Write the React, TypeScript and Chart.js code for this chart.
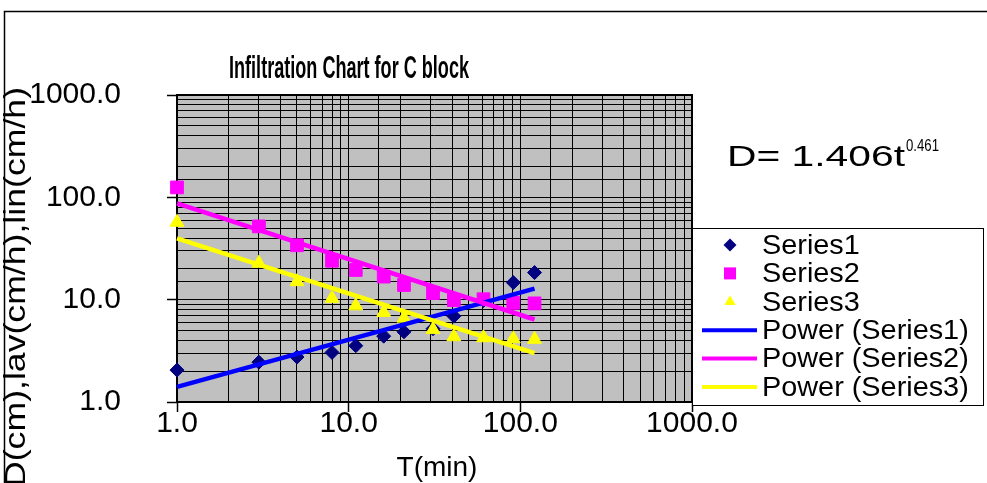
import React, { useEffect, useRef } from 'react';
import { Chart, registerables } from 'chart.js';

Chart.register(...registerables);

// ---- data ----
const TIMES = [1, 3, 5, 8, 11, 16, 21, 31, 41, 61, 91, 121];
const SERIES1 = [2.05, 2.45, 2.75, 3.05, 3.55, 4.4, 4.85, 5.2, 6.9, 9.8, 14.7, 18.4];
const SERIES2 = [125, 52, 34, 24, 19.5, 16.8, 13.9, 11.6, 9.9, 10.1, 9.3, 9.2];
const SERIES3 = [57, 22.7, 15, 10.3, 8.7, 7.5, 6.6, 5.1, 4.35, 4.25, 4.15, 4.1];
const TREND_T = [1, 121];
const TREND1 = [1.406, 12.83];
const TREND2 = [87.5, 6.4];
const TREND3 = [39.8, 3.0];
const AXIS_MIN = 1;
const AXIS_MAX = 1000;
const TITLE = 'Infiltration Chart for C block';
const X_TITLE = 'T(min)';
const Y_TITLE = 'D(cm),lav(cm/h),lin(cm/h)';
const EQ_BASE = 'D= 1.406t';
const EQ_EXP = '0.461';
const LEGEND_LABELS = ['Series1', 'Series2', 'Series3', 'Power (Series1)', 'Power (Series2)', 'Power (Series3)'];

const C_S1 = '#000080';
const C_S2 = '#FF00FF';
const C_S3 = '#FFFF00';
const C_T1 = '#0000FF';
const C_T2 = '#FF00FF';
const C_T3 = '#FFFF00';

const FONT = '"Liberation Sans", Arial, Helvetica, sans-serif';

const isPow10 = (v: number) => {
  const l = Math.log10(v);
  return Math.abs(l - Math.round(l)) < 1e-9;
};

function measure(ctx: CanvasRenderingContext2D, s: string, font: string) {
  ctx.save();
  ctx.font = font;
  const w = ctx.measureText(s).width;
  ctx.restore();
  return w;
}

function text(ctx: CanvasRenderingContext2D, s: string, x: number, y: number, font: string, align: CanvasTextAlign, baseline: CanvasTextBaseline = 'middle', sx = 1, rot = 0) {
  ctx.save();
  ctx.translate(x, y);
  if (rot) ctx.rotate(rot);
  ctx.scale(sx, 1);
  ctx.font = font;
  ctx.fillStyle = '#000';
  ctx.textAlign = align;
  ctx.textBaseline = baseline;
  ctx.fillText(s, 0, 0);
  ctx.restore();
}

function marker(ctx: CanvasRenderingContext2D, kind: string, x: number, y: number, r: number, color: string) {
  ctx.save();
  ctx.fillStyle = color;
  ctx.beginPath();
  if (kind === 'diamond') {
    ctx.moveTo(x - r, y); ctx.lineTo(x, y - r); ctx.lineTo(x + r, y); ctx.lineTo(x, y + r);
  } else if (kind === 'square') {
    ctx.rect(x - r, y - r, 2 * r, 2 * r);
  } else {
    ctx.moveTo(x, y - r); ctx.lineTo(x + r * 0.866, y + r * 0.5); ctx.lineTo(x - r * 0.866, y + r * 0.5);
  }
  ctx.closePath();
  ctx.fill();
  ctx.restore();
}

const decor = {
  id: 'decor',
  beforeDraw(chart: any) {
    const { ctx, chartArea: a } = chart;
    ctx.save();
    ctx.fillStyle = '#fff';
    ctx.fillRect(0, 0, chart.width, chart.height);
    ctx.fillStyle = '#C0C0C0';
    ctx.fillRect(a.left, a.top, a.right - a.left, a.bottom - a.top);
    ctx.strokeStyle = '#000';
    ctx.lineWidth = 1.5;
    ctx.strokeRect(4.5, 11.5, chart.width + 40, chart.height + 40);
    ctx.restore();
  },
  beforeDatasetsDraw(chart: any) {
    const { ctx, chartArea: a } = chart;
    ctx.save();
    ctx.strokeStyle = '#000';
    ctx.lineWidth = 2;
    ctx.strokeRect(a.left, a.top, a.right - a.left, a.bottom - a.top);
    ctx.restore();
  },
  afterDraw(chart: any) {
    const { ctx } = chart;
    // title (condensed bold)
    const tf = `bold 31px ${FONT}`;
    text(ctx, TITLE, 349, 69, tf, 'center', 'middle', 240 / measure(ctx, TITLE, tf));
    // axis titles
    text(ctx, X_TITLE, 437, 468, `28px ${FONT}`, 'center');
    const yf = `30px ${FONT}`;
    text(ctx, Y_TITLE, 17, 287, yf, 'center', 'middle', 400 / measure(ctx, Y_TITLE, yf), -Math.PI / 2);
    // equation
    const ef = `29px ${FONT}`;
    const esx = 178 / measure(ctx, EQ_BASE, ef);
    text(ctx, EQ_BASE, 727, 166, ef, 'left', 'alphabetic', esx);
    const xf = `16px ${FONT}`;
    text(ctx, EQ_EXP, 906, 151, xf, 'left', 'alphabetic', 33 / measure(ctx, EQ_EXP, xf));
    // legend
    const lx = 692, ly = 228, lw = 291, lh = 177;
    ctx.save();
    ctx.fillStyle = '#fff';
    ctx.fillRect(lx, ly, lw, lh);
    ctx.strokeStyle = '#000';
    ctx.lineWidth = 1;
    ctx.strokeRect(lx + 0.5, ly + 0.5, lw, lh);
    ctx.restore();
    const kinds = ['diamond', 'square', 'triangle'];
    const mcol = [C_S1, C_S2, C_S3];
    const lcol = [C_T1, C_T2, C_T3];
    LEGEND_LABELS.forEach((lab, i) => {
      const y = ly + 17 + i * 28.4;
      if (i < 3) {
        marker(ctx, kinds[i], 730, y, i === 1 ? 6 : 6.5, mcol[i]);
      } else {
        ctx.save();
        ctx.strokeStyle = lcol[i - 3];
        ctx.lineWidth = 4;
        ctx.beginPath();
        ctx.moveTo(702, y);
        ctx.lineTo(757, y);
        ctx.stroke();
        ctx.restore();
      }
      text(ctx, lab, 762, y + 1, `28px ${FONT}`, 'left', 'middle', 1.03);
    });
  },
};

export default function App() {
  const ref = useRef<HTMLCanvasElement>(null);
  useEffect(() => {
    const canvas = ref.current!;
    const pts = (xs: number[], ys: number[]) => xs.map((t, i) => ({ x: t, y: ys[i] }));
    const tickCol = (c: any) => (c.tick && isPow10(c.tick.value) ? '#000' : 'rgba(0,0,0,0)');
    const chart = new Chart(canvas, {
      type: 'scatter',
      data: {
        datasets: [
          { label: 'Series1', data: pts(TIMES, SERIES1), pointStyle: 'rectRot', pointRadius: 7, backgroundColor: C_S1, borderColor: C_S1, borderWidth: 1, order: 6, clip: false },
          { label: 'Series2', data: pts(TIMES, SERIES2), pointStyle: 'rect', pointRadius: 9, backgroundColor: C_S2, borderColor: C_S2, borderWidth: 1, order: 5, clip: false },
          { label: 'Series3', data: pts(TIMES, SERIES3), pointStyle: 'triangle', pointRadius: 8, backgroundColor: C_S3, borderColor: C_S3, borderWidth: 1, order: 4, clip: false },
          { label: 'Power (Series1)', data: pts(TREND_T, TREND1), showLine: true, pointRadius: 0, borderColor: C_T1, borderWidth: 4.5, order: 3, clip: false },
          { label: 'Power (Series2)', data: pts(TREND_T, TREND2), showLine: true, pointRadius: 0, borderColor: C_T2, borderWidth: 4.5, order: 2, clip: false },
          { label: 'Power (Series3)', data: pts(TREND_T, TREND3), showLine: true, pointRadius: 0, borderColor: C_T3, borderWidth: 4.5, order: 1, clip: false },
        ] as any,
      },
      options: {
        animation: false,
        responsive: false,
        devicePixelRatio: 1,
        layout: { padding: { top: 95, right: 295, left: 0, bottom: 0 } },
        plugins: { legend: { display: false }, tooltip: { enabled: false }, title: { display: false } },
        scales: {
          x: {
            type: 'logarithmic',
            position: 'bottom',
            min: AXIS_MIN,
            max: AXIS_MAX,
            afterFit: (s: any) => { s.height = 81; },
            grid: { color: '#000', lineWidth: 1, tickLength: 10, tickColor: tickCol, tickWidth: 1.5 },
            border: { display: false },
            ticks: {
              autoSkip: false,
              maxRotation: 0,
              padding: -6,
              color: '#000',
              font: { family: FONT, size: 30 },
              callback: (v: any) => (isPow10(Number(v)) ? Number(v).toFixed(1) : ''),
            },
          },
          y: {
            type: 'logarithmic',
            position: 'left',
            min: AXIS_MIN,
            max: AXIS_MAX,
            afterFit: (s: any) => { s.width = 177; },
            grid: { color: '#000', lineWidth: 1, tickLength: 10, tickColor: tickCol, tickWidth: 1.5 },
            border: { display: false },
            ticks: {
              autoSkip: false,
              padding: 46,
              color: '#000',
              font: { family: FONT, size: 30 },
              callback: (v: any) => (isPow10(Number(v)) ? Number(v).toFixed(1) : ''),
            },
          },
        },
      },
      plugins: [decor],
    } as any);
    return () => chart.destroy();
  }, []);
  return (
    <div style={{ position: 'fixed', left: 0, top: 0, width: 987, height: 483, background: '#fff' }}>
      <canvas ref={ref} width={987} height={483} style={{ width: 987, height: 483, display: 'block' }} />
    </div>
  );
}
